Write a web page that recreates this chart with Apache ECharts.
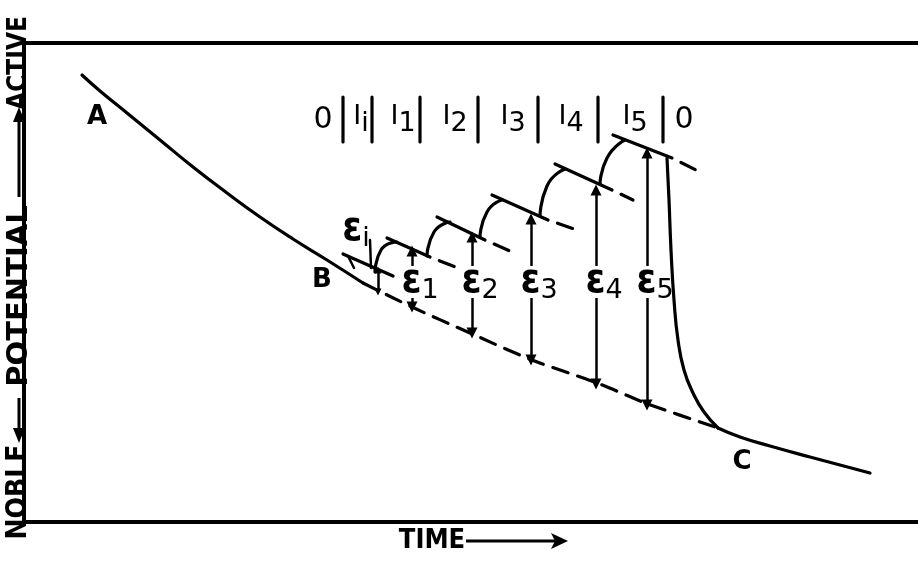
<!DOCTYPE html>
<html>
<head>
<meta charset="utf-8">
<script src="https://cdn.jsdelivr.net/npm/echarts@6/dist/echarts.min.js"></script>
<style>
  html, body { margin: 0; padding: 0; background: #fff; }
  #chart { width: 918px; height: 564px; }
</style>
</head>
<body>
<div id="chart"></div>
<script>
// Potential–time trace. Time runs to the right, active potential upward (plot units).
const curveAB    = [[58, 447], [76, 431], [103, 409], [136, 382], [169, 355], [203, 329], [236, 305], [269, 283], [303, 262], [339, 239]];
const baselineBC = [[339, 239], [388, 215], [446, 189], [508, 162], [573, 139], [624, 118], [694, 94]];
const tailC      = [[694, 94], [716, 85], [746, 76], [786, 65], [846, 49]];
const dropToC    = [[643, 364], [645, 322], [647, 272], [650, 222], [654, 182], [660, 152], [669, 129], [680, 110], [694, 94]];

// Current steps Ii, I1 … I5: solid trace, then the dashed extrapolation
const stepNames    = ['i', '1', '2', '3', '4', '5'];
const stepStart    = [[319, 268], [363, 284], [413, 305], [468, 327], [531, 358], [589, 387]];
const stepEnd      = [[369, 246], [406, 265], [461, 282], [524, 302], [588, 332], [648, 364]];
const stepExtended = [null, [434, 254], [488, 270], [553, 292], [609, 322], [676, 350]];

// Transients between consecutive steps (start, knee, end)
const transients = [
  [[351, 250], [357, 272], [373, 280]],
  [[403, 266], [410, 290], [426, 300]],
  [[456, 285], [463, 310], [478, 322]],
  [[516, 306], [523, 336], [541, 353]],
  [[576, 338], [583, 364], [601, 382]]
];

// Overpotentials ε1 … ε5: extrapolated step potential vs. baseline
const epsNames  = ['1', '2', '3', '4', '5'];
const epsTime   = [388, 448, 507, 572, 623];
const epsUpper  = [271, 285, 303, 332, 369];
const epsLower  = [215, 189, 162, 138, 117];
const epsLabelY = 240;

// Small overpotential εi
const epsITime = 354, epsIUpper = 252, epsILower = 230;

// Current regime header
const headerBreaks = [319, 348, 396, 454, 514, 574, 639];
const headerTexts  = ['0', 'Ii', 'I1', 'I2', 'I3', 'I4', 'I5', '0'];
const headerTimes  = [299, 337, 379, 431, 489, 547, 611, 660];
const headerLow = 380, headerHigh = 425, headerLabelY = 402;

// Point letters
const pointNames = ['A', 'B', 'C'];
const pointPos   = [[73, 405], [298, 242], [718, 60]];

const FONT = '"DejaVu Sans", sans-serif';
const FONT_C = '"DejaVu Sans Condensed", "DejaVu Sans", sans-serif';
const INK = '#000';

function trace(data, opts) {
  opts = opts || {};
  return {
    type: 'line', data: data, symbol: 'none', silent: true, animation: false,
    smooth: opts.smooth || false,
    lineStyle: {
      color: INK, width: opts.width || 3.2, cap: 'round', join: 'round',
      type: opts.dashed ? opts.dashed : 'solid',
      dashOffset: opts.dashOffset || 0
    },
    z: 3
  };
}

const series = [];
series.push(trace(curveAB, { smooth: 0.5 }));
series.push(trace(baselineBC, { smooth: 0.3, dashed: [16, 10] }));
series.push(trace(tailC, { smooth: 0.5 }));
series.push(trace(dropToC, { smooth: 0.5 }));

stepNames.forEach(function (n, k) {
  series.push(trace([stepStart[k], stepEnd[k]]));
  if (stepExtended[k]) {
    series.push(trace([stepEnd[k], stepExtended[k]], { dashed: [16, 10], dashOffset: 16 }));
  }
});
transients.forEach(function (t) { series.push(trace(t, { smooth: 0.6 })); });
headerBreaks.forEach(function (x) { series.push(trace([[x, headerLow], [x, headerHigh]])); });

// εi leader and small bracket
series.push(trace([[346, 282], [347, 254]], { width: 2.5 }));
series.push(trace([[324, 266], [330, 254]], { width: 2.5 }));

// Double-headed overpotential arrows, split around their labels
const gapTop = 256, gapBottom = 224;
const arrowData = [];
epsTime.forEach(function (x, k) {
  arrowData.push([{ coord: [x, Math.min(gapTop, epsUpper[k] - 2)] }, { coord: [x, epsUpper[k]] }]);
  arrowData.push([{ coord: [x, gapBottom] }, { coord: [x, epsLower[k]] }]);
});
series.push({
  type: 'line', data: [], silent: true, animation: false,
  markLine: {
    silent: true, animation: false,
    symbol: ['none', 'triangle'], symbolSize: 11,
    label: { show: false },
    lineStyle: { color: INK, width: 2.5, type: 'solid', opacity: 1 },
    data: arrowData
  }
});
series.push({
  type: 'line', data: [], silent: true, animation: false,
  markLine: {
    silent: true, animation: false,
    symbol: ['triangle', 'triangle'], symbolSize: 7,
    label: { show: false },
    lineStyle: { color: INK, width: 2.5, type: 'solid', opacity: 1 },
    data: [[{ coord: [epsITime, epsIUpper] }, { coord: [epsITime, epsILower] }]]
  }
});

// Text annotations anchored in plot units
const textItems = [];
pointNames.forEach(function (n, k) {
  textItems.push({ value: pointPos[k], label: { formatter: '{p|' + n + '}' } });
});
epsNames.forEach(function (n, k) {
  textItems.push({ value: [epsTime[k], epsLabelY], label: { formatter: '{e|ε}{s|' + n + '}', offset: [8, 0] } });
});
textItems.push({ value: [328, 292], label: { formatter: '{e|ε}{s|i}', offset: [4, 0] } });
headerTexts.forEach(function (t, k) {
  const f = t === '0' ? '{z|0}' : '{i|I}{h|' + t.slice(1) + '}';
  textItems.push({ value: [headerTimes[k], headerLabelY], label: { formatter: f } });
});

series.push({
  type: 'scatter', symbolSize: 0, silent: true, animation: false, z: 5,
  itemStyle: { opacity: 1 },
  data: textItems,
  label: {
    show: true, position: 'inside', color: INK, opacity: 1, textBorderWidth: 0,
    rich: {
      p: { fontFamily: FONT, fontWeight: 'bold', fontSize: 26, color: INK },
      e: { fontFamily: FONT_C, fontWeight: 'bold', fontSize: 40, lineHeight: 44, color: INK },
      s: { fontFamily: FONT, fontSize: 27, lineHeight: 27, verticalAlign: 'bottom', color: INK },
      z: { fontFamily: FONT, fontSize: 30, color: INK },
      i: { fontFamily: FONT, fontSize: 27, lineHeight: 34, verticalAlign: 'top', color: INK },
      h: { fontFamily: FONT, fontSize: 27, lineHeight: 30, verticalAlign: 'bottom', color: INK }
    }
  }
});

// Axis captions
const cx = 19;
function vText(text, y, size, family) {
  return {
    type: 'text', x: cx, y: y, rotation: Math.PI / 2,
    style: { text: text, fill: INK, fontFamily: family, fontWeight: 'bold', fontSize: size, align: 'center', verticalAlign: 'middle' }
  };
}
const graphics = [
  vText('NOBLE', 492, 28, FONT_C),
  vText('POTENTIAL', 296, 29, FONT),
  vText('ACTIVE', 63, 26, FONT_C),
  { type: 'line', shape: { x1: cx, y1: 398, x2: cx, y2: 432 }, style: { stroke: INK, lineWidth: 3 } },
  { type: 'polygon', shape: { points: [[cx - 6, 428], [cx + 6, 428], [cx, 443]] }, style: { fill: INK } },
  { type: 'line', shape: { x1: cx, y1: 197, x2: cx, y2: 118 }, style: { stroke: INK, lineWidth: 3 } },
  { type: 'polygon', shape: { points: [[cx - 6, 122], [cx + 6, 122], [cx, 107]] }, style: { fill: INK } },
  { type: 'text', x: 432, y: 541, style: { text: 'TIME', fill: INK, fontFamily: FONT_C, fontWeight: 'bold', fontSize: 27, align: 'center', verticalAlign: 'middle' } },
  { type: 'line', shape: { x1: 466, y1: 541, x2: 558, y2: 541 }, style: { stroke: INK, lineWidth: 3 } },
  { type: 'polygon', shape: { points: [[551, 533], [568, 541], [551, 549], [555, 541]] }, style: { fill: INK } }
];

const frameLine = { show: true, lineStyle: { color: INK, width: 4 } };
const hidden = { axisTick: { show: false }, axisLabel: { show: false }, splitLine: { show: false } };

const chart = echarts.init(document.getElementById('chart'), null, { renderer: 'canvas' });
chart.setOption({
  animation: false,
  backgroundColor: '#fff',
  grid: { left: 24, right: 0, top: 43, bottom: 42, show: false },
  xAxis: [
    Object.assign({ type: 'value', min: 0, max: 894, position: 'bottom', axisLine: frameLine }, hidden),
    Object.assign({ type: 'value', min: 0, max: 894, position: 'top', axisLine: frameLine }, hidden)
  ],
  yAxis: Object.assign({ type: 'value', min: 0, max: 479, position: 'left', axisLine: Object.assign({ onZero: false }, frameLine) }, hidden),
  series: series,
  graphic: graphics
});
</script>
</body>
</html>
